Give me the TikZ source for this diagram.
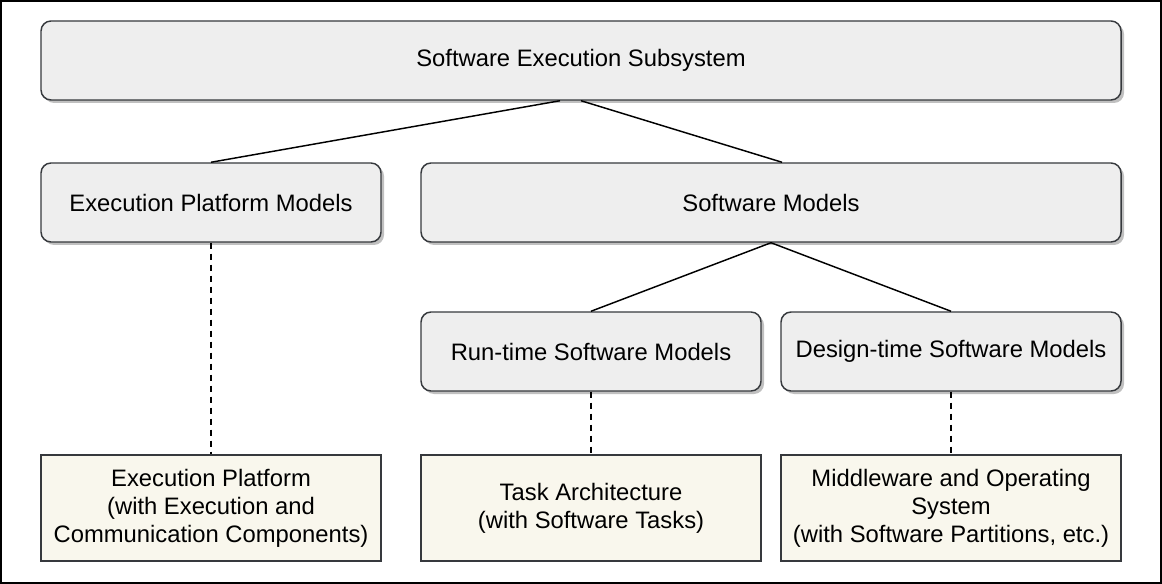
\documentclass[tikz,border=0pt]{standalone}
\usepackage{fontspec}
\setmainfont{Liberation Sans}
\usetikzlibrary{shadows}
\definecolor{boxfill}{HTML}{EEEEEE}
\definecolor{leaffill}{HTML}{F9F7ED}
\definecolor{outline}{HTML}{36393D}
\definecolor{shade}{HTML}{C0C0C0}

\begin{document}
\begin{tikzpicture}[
  x=0.75pt, y=-0.75pt,
  every node/.style = {font=\fontsize{17.85}{21}\selectfont, align=center, inner sep=0pt},
  model/.style = {draw=outline, line width=1.1pt, fill=boxfill, rounded corners=7.5pt,
    minimum width=255pt, minimum height=59.25pt,
    drop shadow={shadow xshift=2.25pt, shadow yshift=-2.25pt, fill=shade, opacity=1}},
  leaf/.style = {draw=outline, line width=1.1pt, fill=leaffill,
    minimum width=255pt, minimum height=79.5pt},
  line/.style = {line width=1.1pt, black},
  dashline/.style = {line, dash pattern=on 4.5pt off 3.75pt},
]

  \useasboundingbox (0,0) rectangle (1162,584);
  \draw[line width=1.5pt] (1,1) rectangle (1161,583);

  \node[model, minimum width=810pt] (top) at (581,60.5) {Software Execution Subsystem};

  \node[model] (epm) at (211,202.5) {Execution Platform Models};
  \node[model, minimum width=525pt] (sm) at (771,202.5) {Software Models};

  \node[model] (rt) at (591,351.5) {Run-time Software Models};
  \node[model] (dt) at (951,351.5) {Design-time Software Models};

  \node[leaf] (ep) at (211,508) {Execution Platform\\(with Execution and\\Communication Components)};
  \node[leaf] (ta) at (591,508) {Task Architecture\\(with Software Tasks)};
  \node[leaf] (mw) at (951,508) {Middleware and Operating\\System\\(with Software Partitions, etc.)};

  \draw[line] ([xshift=-15.75pt]top.south) -- (epm.north);
  \draw[line] (top.south) -- ([xshift=8.25pt]sm.north);
  \draw[line] (sm.south) -- (rt.north);
  \draw[line] (sm.south) -- (dt.north);

  \draw[dashline] (epm.south) -- (ep.north);
  \draw[dashline] (rt.south) -- (ta.north);
  \draw[dashline] (dt.south) -- (mw.north);

\end{tikzpicture}
\end{document}
